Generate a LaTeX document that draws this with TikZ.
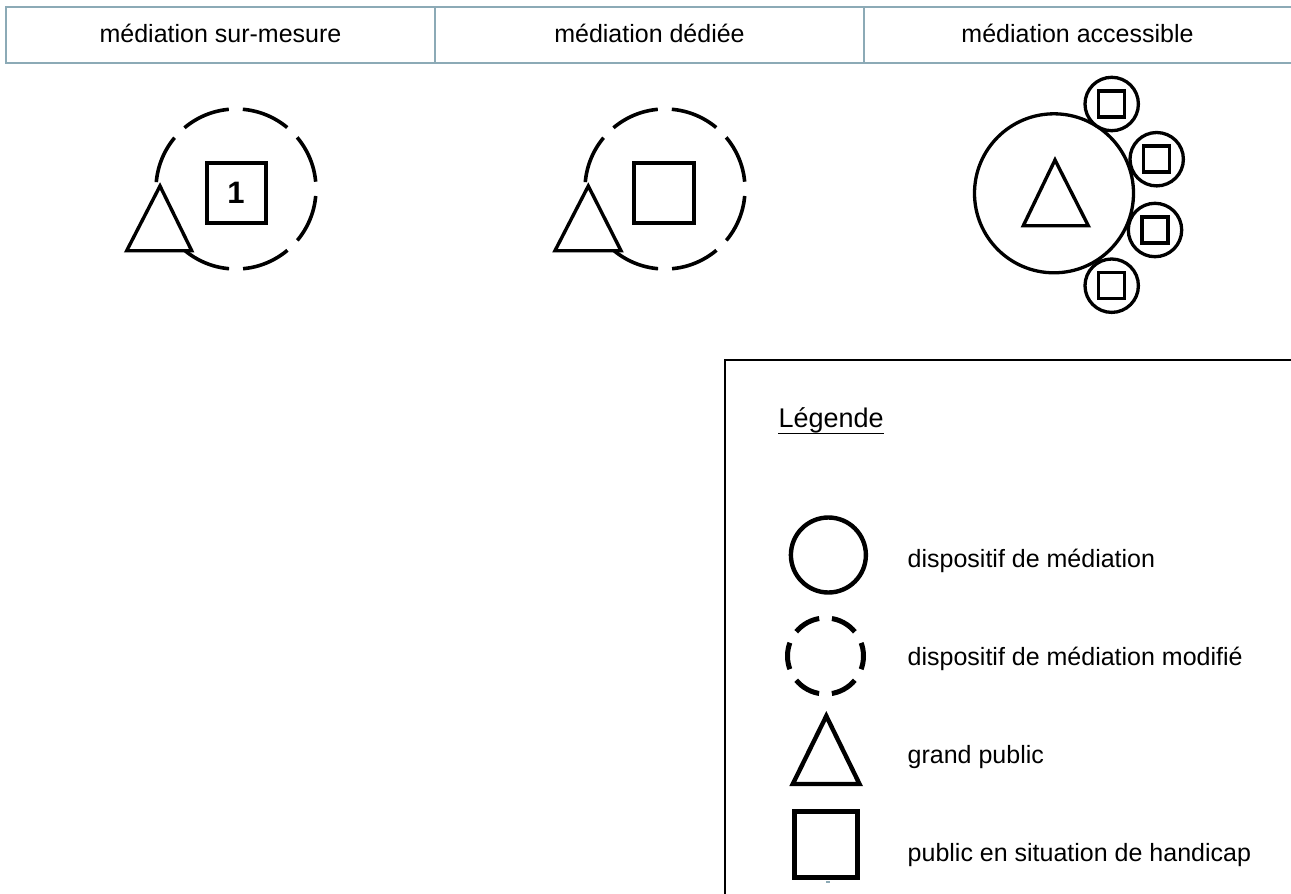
\documentclass[tikz,border=0pt]{standalone}
\usepackage{fontspec}
\setmainfont{Liberation Sans}
\usepackage{xcolor}
\usepackage{tikz}
\definecolor{gridline}{RGB}{140,170,182}

\begin{document}
\begin{tikzpicture}[x=1pt, y=-1pt,
  txt/.style={font=\fontsize{25}{30}\selectfont, inner sep=0pt},
  tri/.style={line width=3.4pt, fill=white},
  box/.style={line width=4pt},
  modcircle/.style={line width=3.6pt, dash pattern=on 48.8pt off 14pt, dash phase=55.8pt}]
  \clip (0,0) rectangle (1291,894);
  \fill[white] (0,0) rectangle (1291,894);

  % header row
  \draw[gridline, line width=1.5pt] (6,7) rectangle (1300,63);
  \foreach \x in {435,864} \draw[gridline, line width=1.5pt] (\x,7) -- (\x,63);
  \node[txt, anchor=base] (hsur) at (220.5,42) {médiation sur-mesure};
  \node[txt, anchor=base] (hded) at (649.5,42) {médiation dédiée};
  \node[txt, anchor=base] (hacc) at (1077.5,42) {médiation accessible};

  % sur-mesure
  \draw[modcircle] (236,189) circle[radius=80];
  \draw[tri] (160,186) -- (126.7,250.7) -- (191.7,250.7) -- cycle;
  \draw[box] (206.7,163.3) rectangle (265.7,222.7);
  \node[font=\bfseries\fontsize{31}{34}\selectfont, inner sep=0pt] (un) at (236,193) {1};

  % dediee
  \draw[modcircle] (665,189) circle[radius=80];
  \draw[tri] (588.3,186) -- (555,250.7) -- (621,250.7) -- cycle;
  \draw[box] (634.3,163.3) rectangle (694.3,222.5);

  % accessible
  \draw[line width=3.3pt] (1054,193.3) circle[radius=79.5];
  \draw[tri] (1055,160) -- (1023.3,225.7) -- (1088.3,225.7) -- cycle;
  \foreach \cx/\cy in {1111.7/104, 1156.7/159.2, 1155/230, 1111.7/285.7} {
    \draw[line width=3.3pt, fill=white] (\cx,\cy) circle[radius=26.7];
    \draw[line width=3.5pt] (\cx-13,\cy-13) rectangle (\cx+13,\cy+13);
  }

  % legende
  \draw[line width=1.5pt] (1300,360) -- (725,360) -- (725,900);
  \node[font=\fontsize{27}{32}\selectfont, inner sep=0pt, anchor=base west] (leg) at (778.3,427.6) {Légende};
  \draw[line width=1.3pt] (leg.south west) -- (leg.south east);
  \draw[line width=4.4pt] (828.4,555) circle[radius=37.5];
  \draw[line width=5pt, dash pattern=on 27pt off 12.8pt, dash phase=13.5pt] (825.5,656) circle[radius=38];
  \draw[line width=4.4pt] (826.3,716) -- (792.8,784) -- (859.5,784) -- cycle;
  \draw[line width=4.8pt] (794.7,811.8) rectangle (857.3,877.3);
  \draw[gridline, line width=1.5pt] (826,882) -- (830,882);
  \node[txt, anchor=base west] (ldisp) at (907.5,567.8) {dispositif de médiation};
  \node[txt, anchor=base west] (lmod) at (907.5,665) {dispositif de médiation modifié};
  \node[txt, anchor=base west] (lgp) at (907.5,763.3) {grand public};
  \node[txt, anchor=base west] (lhand) at (907.5,861.6) {public en situation de handicap};
\end{tikzpicture}
\end{document}
